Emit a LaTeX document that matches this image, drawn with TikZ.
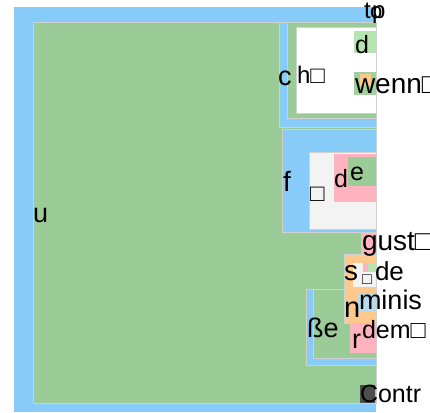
\documentclass[tikz,border=0pt]{standalone}
\usepackage{fontspec}
\setmainfont{Liberation Sans}
\definecolor{blueC}{HTML}{87CBF9}
\definecolor{greenC}{HTML}{9BCB97}
\definecolor{lgreenC}{HTML}{B5E3B1}
\definecolor{pinkC}{HTML}{FFB3BE}
\definecolor{orangeC}{HTML}{FFC98D}
\definecolor{greyC}{HTML}{F3F3F3}
\definecolor{edgeC}{HTML}{D0D0D0}
\definecolor{lblueC}{HTML}{B4DCEC}
\definecolor{darkC}{HTML}{4D4D4D}
\newcommand{\fs}[1]{\fontsize{#1}{#1}\selectfont}
\tikzset{
  cell/.style={draw=edgeC, line width=0.8pt},
  lbl/.style={anchor=base west, inner sep=0pt, outer sep=0pt, text=black}
}
\begin{document}
\begin{tikzpicture}[x=1pt,y=-1pt]
\useasboundingbox (0,0) rectangle (430,412);
% outer
\fill[blueC] (14,7) rectangle (376,412);
\filldraw[cell, fill=greenC] (33,22) rectangle (376,403);
% block A
\filldraw[cell, fill=blueC] (279,22) rectangle (376,127);
\filldraw[cell, fill=greenC] (287,22) rectangle (376,118);
\filldraw[cell, fill=white] (296,27) rectangle (376,113);
\fill[lgreenC] (354,31) rectangle (376,53);
\fill[greenC!80!lgreenC] (354,72) rectangle (376,95);
\fill[orangeC] (360,74) rectangle (371,86);
% block B
\filldraw[cell, fill=blueC] (282,129) rectangle (376,232);
\filldraw[cell, fill=greyC] (309,152) rectangle (376,229);
\fill[pinkC] (334,154) rectangle (376,202);
\fill[greenC] (348,157) rectangle (376,186);
% gust
\fill[pinkC] (361,233) rectangle (376,254);
% sse block
\filldraw[cell, fill=blueC] (306,289) rectangle (376,365);
\filldraw[cell, fill=greenC] (313,289) rectangle (376,358);
% orange block
\filldraw[cell, fill=orangeC] (344,254) rectangle (376,323);
\draw[cell] (344,289) -- (376,289);
\fill[greyC] (353,263) rectangle (376,287);
\fill[pinkC] (363,263) rectangle (368,272);
\fill[lgreenC] (368,263) rectangle (376,272);
\fill[lblueC] (358,293) rectangle (376,312);
% r
\fill[pinkC] (350,323) rectangle (376,353);
% C
\fill[darkC] (360,385) rectangle (375,403);
% labels
\node[lbl] (u) at (33,222) {\fs{27}u};
\node[lbl] (c) at (278,85) {\fs{27}c};
\node[lbl] (h) at (297,83) {\fs{24}h□};
\node[lbl] (t) at (364,19) {\fs{24}t};
\node[lbl] (o) at (370,19) {\fs{22}o};
\node[lbl] (p) at (372,19) {\fs{24}p};
\node[lbl] (d1) at (355,53) {\fs{25}d};
\node[lbl] (wenn) at (355,93) {\fs{28}wenn□};
\node[lbl] (f) at (283,191) {\fs{28}f};
\node[lbl] (b1) at (310,201) {\fs{24}□};
\node[lbl] (d2) at (334,187) {\fs{25}d};
\node[lbl] (e) at (350,180) {\fs{25}e};
\node[lbl] (gust) at (362,250) {\fs{28}gust□};
\node[lbl] (s) at (344,280) {\fs{28}s};
\node[lbl] (b2) at (362,284) {\fs{16}□};
\node[lbl] (de) at (375,280) {\fs{26}de};
\node[lbl] (n) at (344,317) {\fs{29}n};
\node[lbl] (minis) at (359,309) {\fs{27}minis};
\node[lbl] (sse) at (307,337) {\fs{27}ße};
\node[lbl] (r) at (352,348) {\fs{27}r};
\node[lbl] (dem) at (362,338) {\fs{25}dem□};
\node[lbl] (contr) at (360,402) {\fs{25}Contr};
\end{tikzpicture}
\end{document}
